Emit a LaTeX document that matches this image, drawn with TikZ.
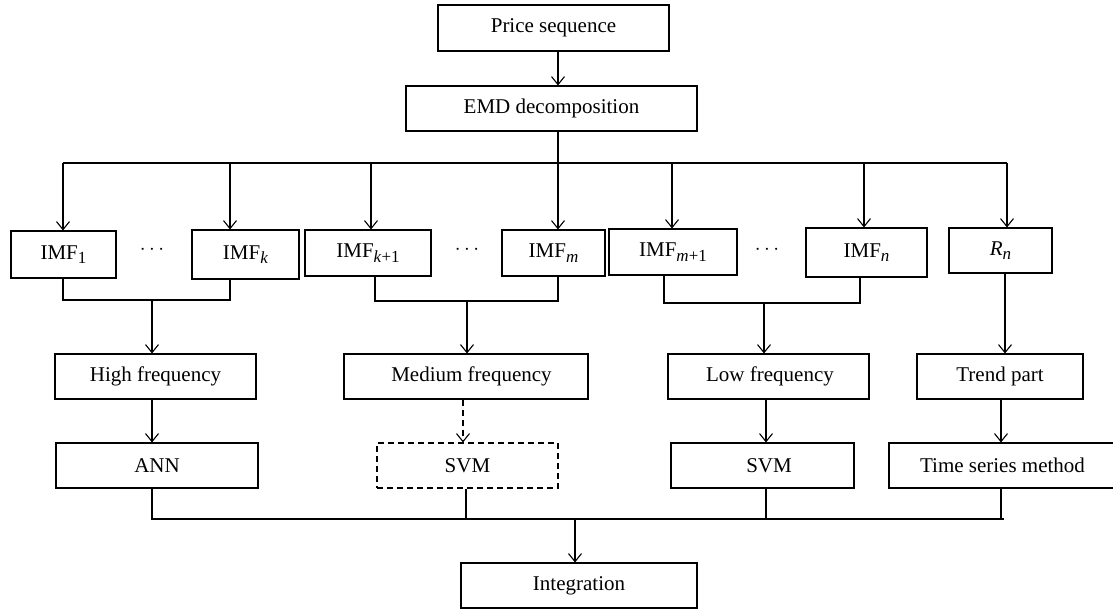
\documentclass[tikz,border=0pt]{standalone}
\usepackage{fontspec}
\setmainfont{Liberation Serif}
\usetikzlibrary{arrows.meta}
\newcommand{\mysub}[1]{\raisebox{-4.5pt}{\fontsize{17}{17}\selectfont #1}}
\begin{document}
\begin{tikzpicture}[x=1pt,y=-1pt,
  every node/.style={font=\fontsize{21}{25}\selectfont},
  box/.style={draw,line width=1.1pt,inner sep=0pt,minimum height=45pt},
  dbox/.style={box,dash pattern=on 6pt off 4pt},
  ln/.style={line width=1.1pt},
  arr/.style={ln,-{Straight Barb[length=8pt,width=13pt,line width=1.1pt]}},
  darr/.style={arr,dash pattern=on 6pt off 4pt}]
\useasboundingbox (0,0) rectangle (1113,612);
% top
\node[box,minimum width=231pt,minimum height=46pt] (price) at (553.5,28) {Price sequence\hspace{9pt}};
\node[box,minimum width=291pt] (emd) at (551.5,108.5) {EMD decomposition};
% IMF row
\node[box,minimum width=105pt,minimum height=47pt] (imf1) at (63.5,254.5) {IMF\mysub{1}};
\node[box,minimum width=107pt,minimum height=49pt] (imfk) at (245.5,254.5) {IMF\mysub{\textit{k}}\hspace{5pt}};
\node[box,minimum width=126pt,minimum height=46pt] (imfk1) at (368,253) {IMF\mysub{\textit{k}+1}\hspace{5pt}};
\node[box,minimum width=103pt,minimum height=46pt] (imfm) at (553.5,253) {IMF\mysub{\textit{m}}\hspace{12pt}};
\node[box,minimum width=128pt,minimum height=46pt] (imfm1) at (673,252) {IMF\mysub{\textit{m}+1}\hspace{9pt}};
\node[box,minimum width=121pt,minimum height=49pt] (imfn) at (866.5,252.5) {IMF\mysub{\textit{n}}\hspace{15pt}};
\node[box,minimum width=103pt,minimum height=45pt] (rn) at (1000.5,250.5) {\textit{R}\mysub{\textit{n}}\hspace{5pt}};
\node (dot1) at (152,250) {$\cdots$};
\node (dot2) at (467,250) {$\cdots$};
\node (dot3) at (767,250) {$\cdots$};
% frequency row
\node[box,minimum width=201pt] (hf) at (155.5,376.5) {High frequency\hspace{29pt}};
\node[box,minimum width=244pt] (mf) at (466,376.5) {\hspace{11pt}Medium frequency};
\node[box,minimum width=201pt] (lf) at (768.5,376.5) {\hspace{3pt}Low frequency};
\node[box,minimum width=166pt] (trend) at (1000,376.5) {Trend part\hspace{3pt}};
% method row
\node[box,minimum width=202pt] (ann) at (157,465.5) {ANN\hspace{5pt}};
\node[dbox,minimum width=181pt] (svm1) at (467.5,465.5) {SVM\hspace{13pt}};
\node[box,minimum width=183pt] (svm2) at (762.5,465.5) {\hspace{13pt}SVM};
\node[box,minimum width=227pt] (tsm) at (1002.5,465.5) {Time series method\hspace{6pt}};
% integration
\node[box,minimum width=236pt] (integ) at (579,585.5) {Integration};
% coordinates
\coordinate (pe) at (558,0);
\coordinate (b1) at (63,163);
\coordinate (b2) at (230,163);
\coordinate (b3) at (371,163);
\coordinate (b5) at (558,163);
\coordinate (b6) at (672,163);
\coordinate (b7) at (864,163);
\coordinate (b8) at (1007,163);
\coordinate (g1) at (152,300);
\coordinate (g2) at (467,301);
\coordinate (g3) at (764,303);
\coordinate (bb) at (575,519);
% connectors
\draw[arr] (price.south -| pe) -- (emd.north -| pe);
\draw[ln] (emd.south -| b5) -- (b5);
\draw[ln] (b1) -- (b8);
\foreach \c/\n in {b1/imf1,b2/imfk,b3/imfk1,b5/imfm,b6/imfm1,b7/imfn,b8/rn}
  \draw[arr] (\c) -- (\c |- \n.north);
% groups
\draw[ln] (imf1.south -| b1) -- (b1 |- g1) -- (b2 |- g1) -- (imfk.south -| b2);
\draw[arr] (g1) -- (hf.north -| g1);
\draw[ln] (imfk1.south -| 375,0) -- (375,301) -- (558,301) -- (imfm.south -| 558,0);
\draw[arr] (g2) -- (mf.north -| g2);
\draw[ln] (imfm1.south -| 664,0) -- (664,303) -- (860,303) -- (imfn.south -| 860,0);
\draw[arr] (g3) -- (lf.north -| g3);
\draw[arr] (rn.south -| 1005,0) -- (trend.north -| 1005,0);
% to methods
\draw[arr] (hf.south -| 152,0) -- (ann.north -| 152,0);
\draw[darr] (mf.south -| 463,0) -- (svm1.north -| 463,0);
\draw[arr] (lf.south -| 766,0) -- (svm2.north -| 766,0);
\draw[arr] (trend.south -| 1001,0) -- (tsm.north -| 1001,0);
% bottom bus
\draw[ln] (ann.south -| 152,0) -- (152,519) -- (1004,519);
\draw[ln] (svm1.south -| 466,0) -- (466,519);
\draw[ln] (svm2.south -| 766,0) -- (766,519);
\draw[ln] (tsm.south -| 1001,0) -- (1001,519);
\draw[arr] (bb) -- (integ.north -| bb);
\end{tikzpicture}
\end{document}
